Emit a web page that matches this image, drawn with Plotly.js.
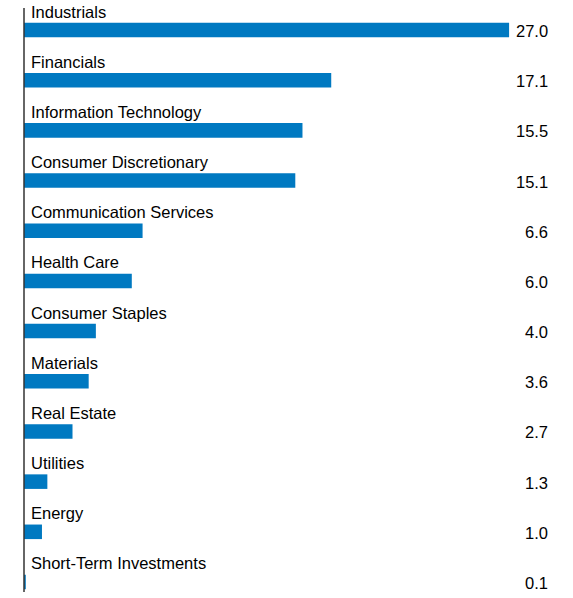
<!DOCTYPE html>
<html>
<head>
<meta charset="utf-8">
<script src="https://cdn.plot.ly/plotly-3.0.1.min.js"></script>
<style>html,body{margin:0;padding:0;background:#fff;}#chart{width:573px;height:598px;}</style>
</head>
<body>
<div id="chart"></div>
<script>
const categories = ["Industrials","Financials","Information Technology","Consumer Discretionary","Communication Services","Health Care","Consumer Staples","Materials","Real Estate","Utilities","Energy","Short-Term Investments"];
const values = [27.0, 17.1, 15.5, 15.1, 6.6, 6.0, 4.0, 3.6, 2.7, 1.3, 1.0, 0.1];

const idx = categories.map((c, i) => i);
const font = {family: "Arial, Liberation Sans, sans-serif", size: 16.5, color: "#000"};

const annotations = [];
categories.forEach((c, i) => {
  annotations.push({xref: "paper", yref: "y", x: 0, y: i, xanchor: "left", yanchor: "middle",
    xshift: 5, yshift: 18.5, text: c, showarrow: false, font: font});
  annotations.push({xref: "paper", yref: "y", x: 0.9765, y: i, xanchor: "right", yanchor: "middle",
    yshift: -1, text: values[i].toFixed(1), showarrow: false, font: font});
});

const trace = {
  type: "bar", orientation: "h", x: values, y: idx,
  width: 0.29, marker: {color: "#0079C1"}, hoverinfo: "skip"
};

const layout = {
  width: 573, height: 598,
  margin: {l: 24, r: 10, t: 0, b: 0, pad: 0},
  paper_bgcolor: "#fff", plot_bgcolor: "#fff",
  showlegend: false,
  xaxis: {range: [0, 30], visible: false, fixedrange: true},
  yaxis: {range: [11.319, -0.598], visible: false, fixedrange: true},
  annotations: annotations,
  shapes: [{type: "line", xref: "paper", yref: "paper", x0: 0, x1: 0,
    y0: 1 - 8/598, y1: 1 - 592/598, line: {color: "#333", width: 1.5}}]
};

Plotly.newPlot("chart", [trace], layout, {displayModeBar: false, staticPlot: true});
</script>
</body>
</html>
